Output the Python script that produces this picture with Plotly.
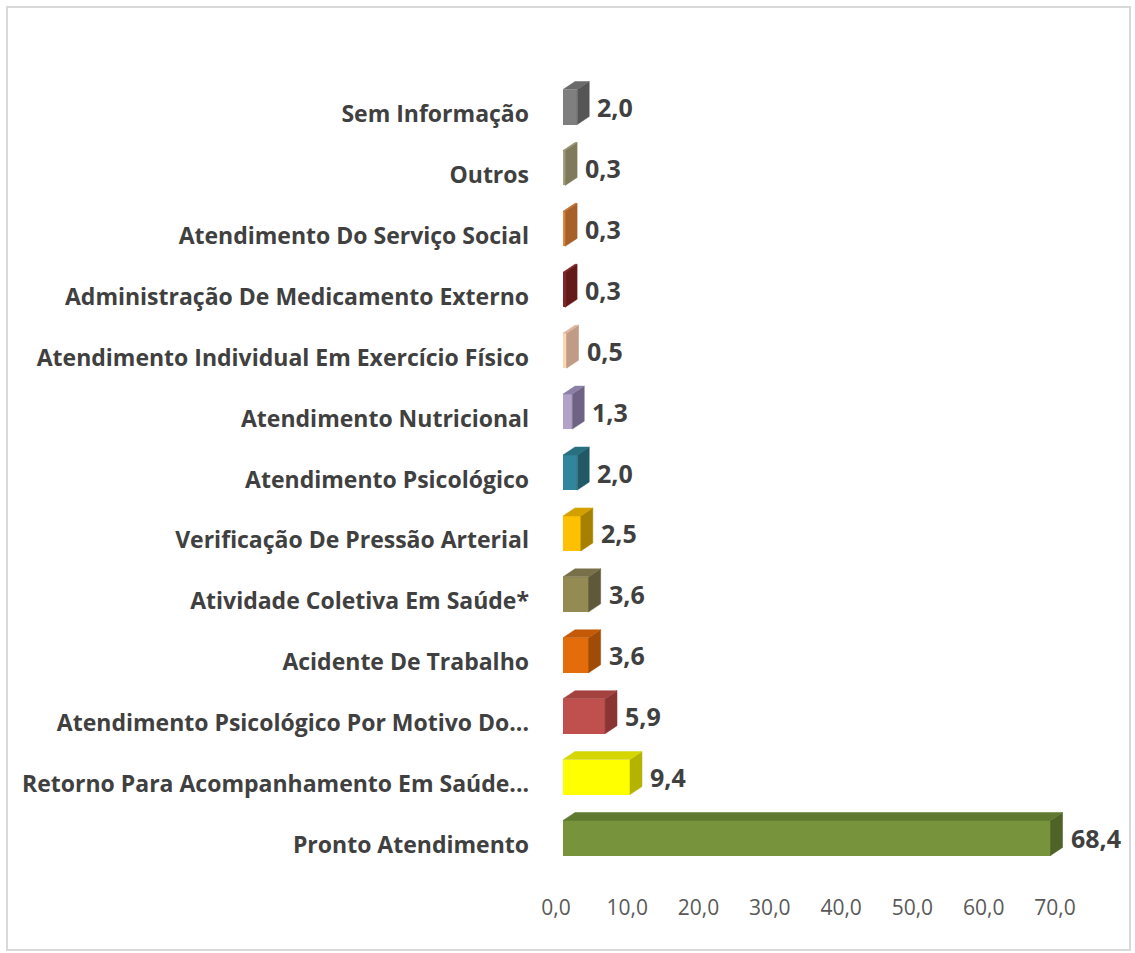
import plotly.graph_objects as go

categories = [
    "Pronto Atendimento",
    "Retorno Para Acompanhamento Em Saúde...",
    "Atendimento Psicológico Por Motivo Do...",
    "Acidente De Trabalho",
    "Atividade Coletiva Em Saúde*",
    "Verificação De Pressão Arterial",
    "Atendimento Psicológico",
    "Atendimento Nutricional",
    "Atendimento Individual Em Exercício Físico",
    "Administração De Medicamento Externo",
    "Atendimento Do Serviço Social",
    "Outros",
    "Sem Informação",
]
values = [68.4, 9.4, 5.9, 3.6, 3.6, 2.5, 2.0, 1.3, 0.5, 0.3, 0.3, 0.3, 2.0]
value_labels = ["68,4", "9,4", "5,9", "3,6", "3,6", "2,5", "2,0", "1,3", "0,5", "0,3", "0,3", "0,3", "2,0"]
front_colors = ["#77933c", "#ffff00", "#c0504d", "#e46c0a", "#948a54", "#ffc000",
                "#31859c", "#b3a2c7", "#fcd5b5", "#8b2525", "#e38a3e", "#a8a27c", "#7f7f7f"]
side_colors = ["#4f6228", "#b3b300", "#8a3533", "#a04c07", "#5f5939", "#a68000",
               "#215967", "#6e6384", "#c09c86", "#651a1a", "#a8602a", "#807a5c", "#555555"]
top_colors = ["#5f7a30", "#d6d600", "#a44240", "#c45a08", "#777048", "#d4a000",
              "#287080", "#8c80a6", "#dcb49a", "#7a2020", "#c0702f", "#948e6c", "#6a6a6a"]
x_tickvals = [0, 10, 20, 30, 40, 50, 60, 70]
x_ticktext = ["0,0", "10,0", "20,0", "30,0", "40,0", "50,0", "60,0", "70,0"]

# 3D look parameters (axis units)
BAR_W = 0.575
BAR_OFF = -0.1725
DX = 1.68
DY = 0.131

positions = list(range(len(categories)))

fig = go.Figure()

# side and top faces
for i, (p, v) in enumerate(zip(positions, values)):
    yb = p + BAR_OFF
    yt = yb + BAR_W
    fig.add_trace(go.Scatter(
        x=[v, v, v + DX, v + DX, v], y=[yb, yt, yt + DY, yb + DY, yb],
        fill="toself", fillcolor=side_colors[i], mode="lines",
        line=dict(width=0.5, color=side_colors[i]), hoverinfo="skip", showlegend=False))
    fig.add_trace(go.Scatter(
        x=[0, v, v + DX, DX, 0], y=[yt, yt, yt + DY, yt + DY, yt],
        fill="toself", fillcolor=top_colors[i], mode="lines",
        line=dict(width=0.5, color=top_colors[i]), hoverinfo="skip", showlegend=False))

# front faces
fig.add_trace(go.Bar(
    x=values, y=positions, orientation="h",
    width=BAR_W, offset=BAR_OFF,
    marker=dict(color=front_colors, line=dict(width=0)),
    showlegend=False, hoverinfo="x+y"))

# data labels
for i, (p, v) in enumerate(zip(positions, values)):
    fig.add_annotation(
        x=v + DX, y=p + BAR_OFF + BAR_W / 2, text=value_labels[i],
        xanchor="left", yanchor="middle", xshift=6, showarrow=False,
        font=dict(family="Open Sans", size=25, color="#404040", weight="bold"))

# chart border
fig.add_shape(type="rect", xref="paper", yref="paper",
              x0=-1.0, x1=1.0198, y0=-0.0684, y1=1.0636,
              line=dict(color="#d9d9d9", width=2), fillcolor="rgba(0,0,0,0)")

fig.update_layout(
    width=1135, height=953,
    margin=dict(l=563, r=16, t=60, b=60),
    paper_bgcolor="white", plot_bgcolor="white",
    bargap=0,
    xaxis=dict(range=[0, 78], tickvals=x_tickvals, ticktext=x_ticktext,
               showgrid=False, zeroline=False, showline=False, ticks="",
               tickfont=dict(family="Open Sans", size=21, color="#595959"),
               ticklabelshift=-7, ticklabelstandoff=0),
    yaxis=dict(range=[-0.788, 12.887], tickvals=positions, ticktext=categories,
               showgrid=False, zeroline=False, showline=False, ticks="",
               tickfont=dict(family="Open Sans", size=23, color="#404040", weight="bold"),
               ticklabelstandoff=33),
)

fig.write_html("out.html", config={"displayModeBar": False},
               post_script="document.body.style.margin='0';")
